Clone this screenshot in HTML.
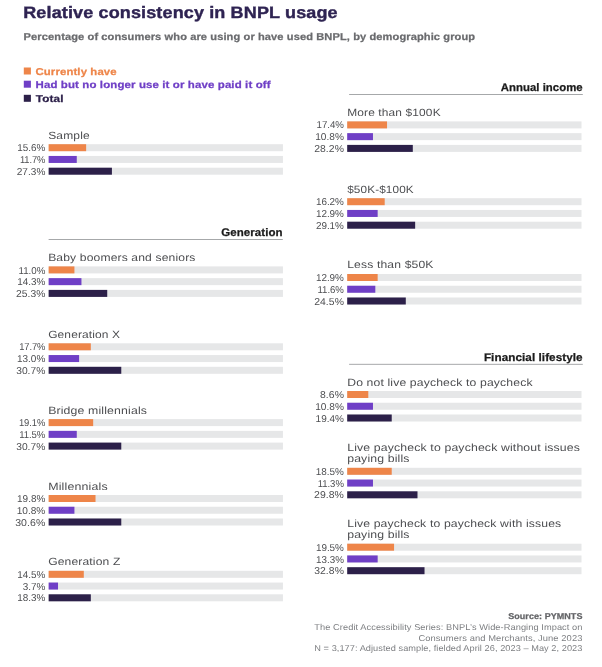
<!DOCTYPE html>
<html lang="en">
<head>
<meta charset="utf-8">
<title>Relative consistency in BNPL usage</title>
<style>
html,body{margin:0;padding:0;background:#fff;}
#c{position:relative;width:602px;height:667px;overflow:hidden;font-family:"Liberation Sans", Arial, Helvetica, sans-serif;will-change:transform;filter:blur(0.35px);}
.t{position:absolute;white-space:nowrap;line-height:1;margin:0;padding:0;text-rendering:geometricPrecision;left:0;transform-origin:0 0;}
.b{position:absolute;}
</style>
</head>
<body>
<div id="c">
<svg class="b" style="left:0;top:0" width="602" height="667" viewBox="0 0 602 667">
<rect x="48.65" y="144.20" width="234.30" height="7.00" fill="#e6e7e8"/>
<rect x="48.65" y="144.20" width="37.49" height="7.00" fill="#ee8549"/>
<rect x="48.65" y="155.95" width="234.30" height="7.00" fill="#e6e7e8"/>
<rect x="48.65" y="155.95" width="28.12" height="7.00" fill="#6f3fc6"/>
<rect x="48.65" y="167.70" width="234.30" height="7.00" fill="#e6e7e8"/>
<rect x="48.65" y="167.70" width="63.26" height="7.00" fill="#2c2049"/>
<rect x="48.65" y="266.40" width="234.30" height="7.00" fill="#e6e7e8"/>
<rect x="48.65" y="266.40" width="25.77" height="7.00" fill="#ee8549"/>
<rect x="48.65" y="278.15" width="234.30" height="7.00" fill="#e6e7e8"/>
<rect x="48.65" y="278.15" width="32.80" height="7.00" fill="#6f3fc6"/>
<rect x="48.65" y="289.90" width="234.30" height="7.00" fill="#e6e7e8"/>
<rect x="48.65" y="289.90" width="58.58" height="7.00" fill="#2c2049"/>
<rect x="48.65" y="343.30" width="234.30" height="7.00" fill="#e6e7e8"/>
<rect x="48.65" y="343.30" width="42.17" height="7.00" fill="#ee8549"/>
<rect x="48.65" y="355.05" width="234.30" height="7.00" fill="#e6e7e8"/>
<rect x="48.65" y="355.05" width="30.46" height="7.00" fill="#6f3fc6"/>
<rect x="48.65" y="366.80" width="234.30" height="7.00" fill="#e6e7e8"/>
<rect x="48.65" y="366.80" width="72.63" height="7.00" fill="#2c2049"/>
<rect x="48.65" y="419.10" width="234.30" height="7.00" fill="#e6e7e8"/>
<rect x="48.65" y="419.10" width="44.52" height="7.00" fill="#ee8549"/>
<rect x="48.65" y="430.85" width="234.30" height="7.00" fill="#e6e7e8"/>
<rect x="48.65" y="430.85" width="28.12" height="7.00" fill="#6f3fc6"/>
<rect x="48.65" y="442.60" width="234.30" height="7.00" fill="#e6e7e8"/>
<rect x="48.65" y="442.60" width="72.63" height="7.00" fill="#2c2049"/>
<rect x="48.65" y="495.00" width="234.30" height="7.00" fill="#e6e7e8"/>
<rect x="48.65" y="495.00" width="46.86" height="7.00" fill="#ee8549"/>
<rect x="48.65" y="506.75" width="234.30" height="7.00" fill="#e6e7e8"/>
<rect x="48.65" y="506.75" width="25.77" height="7.00" fill="#6f3fc6"/>
<rect x="48.65" y="518.50" width="234.30" height="7.00" fill="#e6e7e8"/>
<rect x="48.65" y="518.50" width="72.63" height="7.00" fill="#2c2049"/>
<rect x="48.65" y="570.80" width="234.30" height="7.00" fill="#e6e7e8"/>
<rect x="48.65" y="570.80" width="35.15" height="7.00" fill="#ee8549"/>
<rect x="48.65" y="582.55" width="234.30" height="7.00" fill="#e6e7e8"/>
<rect x="48.65" y="582.55" width="9.37" height="7.00" fill="#6f3fc6"/>
<rect x="48.65" y="594.30" width="234.30" height="7.00" fill="#e6e7e8"/>
<rect x="48.65" y="594.30" width="42.17" height="7.00" fill="#2c2049"/>
<rect x="347.20" y="121.40" width="234.30" height="7.00" fill="#e6e7e8"/>
<rect x="347.20" y="121.40" width="39.83" height="7.00" fill="#ee8549"/>
<rect x="347.20" y="133.15" width="234.30" height="7.00" fill="#e6e7e8"/>
<rect x="347.20" y="133.15" width="25.77" height="7.00" fill="#6f3fc6"/>
<rect x="347.20" y="144.90" width="234.30" height="7.00" fill="#e6e7e8"/>
<rect x="347.20" y="144.90" width="65.60" height="7.00" fill="#2c2049"/>
<rect x="347.20" y="198.20" width="234.30" height="7.00" fill="#e6e7e8"/>
<rect x="347.20" y="198.20" width="37.49" height="7.00" fill="#ee8549"/>
<rect x="347.20" y="209.95" width="234.30" height="7.00" fill="#e6e7e8"/>
<rect x="347.20" y="209.95" width="30.46" height="7.00" fill="#6f3fc6"/>
<rect x="347.20" y="221.70" width="234.30" height="7.00" fill="#e6e7e8"/>
<rect x="347.20" y="221.70" width="67.95" height="7.00" fill="#2c2049"/>
<rect x="347.20" y="274.00" width="234.30" height="7.00" fill="#e6e7e8"/>
<rect x="347.20" y="274.00" width="30.46" height="7.00" fill="#ee8549"/>
<rect x="347.20" y="285.75" width="234.30" height="7.00" fill="#e6e7e8"/>
<rect x="347.20" y="285.75" width="28.12" height="7.00" fill="#6f3fc6"/>
<rect x="347.20" y="297.50" width="234.30" height="7.00" fill="#e6e7e8"/>
<rect x="347.20" y="297.50" width="58.58" height="7.00" fill="#2c2049"/>
<rect x="347.20" y="391.00" width="234.30" height="7.00" fill="#e6e7e8"/>
<rect x="347.20" y="391.00" width="21.09" height="7.00" fill="#ee8549"/>
<rect x="347.20" y="402.75" width="234.30" height="7.00" fill="#e6e7e8"/>
<rect x="347.20" y="402.75" width="25.77" height="7.00" fill="#6f3fc6"/>
<rect x="347.20" y="414.50" width="234.30" height="7.00" fill="#e6e7e8"/>
<rect x="347.20" y="414.50" width="44.52" height="7.00" fill="#2c2049"/>
<rect x="347.20" y="467.80" width="234.30" height="7.00" fill="#e6e7e8"/>
<rect x="347.20" y="467.80" width="44.52" height="7.00" fill="#ee8549"/>
<rect x="347.20" y="479.55" width="234.30" height="7.00" fill="#e6e7e8"/>
<rect x="347.20" y="479.55" width="25.77" height="7.00" fill="#6f3fc6"/>
<rect x="347.20" y="491.30" width="234.30" height="7.00" fill="#e6e7e8"/>
<rect x="347.20" y="491.30" width="70.29" height="7.00" fill="#2c2049"/>
<rect x="347.20" y="543.70" width="234.30" height="7.00" fill="#e6e7e8"/>
<rect x="347.20" y="543.70" width="46.86" height="7.00" fill="#ee8549"/>
<rect x="347.20" y="555.45" width="234.30" height="7.00" fill="#e6e7e8"/>
<rect x="347.20" y="555.45" width="30.46" height="7.00" fill="#6f3fc6"/>
<rect x="347.20" y="567.20" width="234.30" height="7.00" fill="#e6e7e8"/>
<rect x="347.20" y="567.20" width="77.32" height="7.00" fill="#2c2049"/>
<rect x="23.80" y="67.50" width="7.10" height="7.00" fill="#ee8549"/>
<rect x="23.80" y="80.70" width="7.10" height="7.00" fill="#6f3fc6"/>
<rect x="23.80" y="94.80" width="7.10" height="7.00" fill="#2c2049"/>
<rect x="48.60" y="239.15" width="234.20" height="0.85" fill="#97999c"/>
<rect x="349.10" y="94.15" width="233.70" height="0.85" fill="#97999c"/>
<rect x="349.10" y="363.85" width="233.70" height="0.85" fill="#97999c"/>
</svg>
<div class="t" style="top:5px;font-size:16.5px;color:#2e2352;font-weight:700;-webkit-text-stroke:0.4px;letter-spacing:0.127px;transform:translateX(23.20px) scaleX(1.091);">Relative consistency in BNPL usage</div>
<div class="t" style="top:33px;font-size:10.0px;color:#6a6b6e;font-weight:700;-webkit-text-stroke:0.25px;letter-spacing:0.090px;transform:translateX(23.60px) scaleX(1.108);">Percentage of consumers who are using or have used BNPL, by demographic group</div>
<div class="t" style="top:68px;font-size:10.0px;color:#ee8549;font-weight:700;-webkit-text-stroke:0.25px;letter-spacing:0.114px;transform:translateX(35.50px) scaleX(1.134);">Currently have</div>
<div class="t" style="top:81px;font-size:10.0px;color:#6f3fc6;font-weight:700;-webkit-text-stroke:0.25px;letter-spacing:0.105px;transform:translateX(35.50px) scaleX(1.146);">Had but no longer use it or have paid it off</div>
<div class="t" style="top:95px;font-size:10.0px;color:#2c2049;font-weight:700;-webkit-text-stroke:0.25px;letter-spacing:0.151px;transform:translateX(35.70px) scaleX(1.17);">Total</div>
<div class="t" style="top:228px;font-size:11.0px;color:#1a1a1a;font-weight:700;-webkit-text-stroke:0.25px;letter-spacing:0.052px;transform:translateX(221.30px) scaleX(1.047);">Generation</div>
<div class="t" style="top:83px;font-size:11.0px;color:#1a1a1a;font-weight:700;-webkit-text-stroke:0.25px;letter-spacing:0.037px;transform:translateX(500.70px) scaleX(1.033);">Annual income</div>
<div class="t" style="top:353px;font-size:11.0px;color:#1a1a1a;font-weight:700;-webkit-text-stroke:0.25px;letter-spacing:0.054px;transform:translateX(483.90px) scaleX(1.065);">Financial lifestyle</div>
<div class="t" style="top:131px;font-size:10.5px;color:#4d4e51;letter-spacing:0.152px;transform:translateX(48.15px) scaleX(1.141);">Sample</div>
<div class="t" style="top:144px;font-size:10.0px;color:#4d4e51;letter-spacing:-0.012px;transform:translateX(17.35px) scaleX(0.989);">15.6%</div>
<div class="t" style="top:156px;font-size:10.0px;color:#4d4e51;letter-spacing:-0.093px;transform:translateX(19.95px) scaleX(0.932);">11.7%</div>
<div class="t" style="top:168px;font-size:10.0px;color:#4d4e51;letter-spacing:0.010px;transform:translateX(16.75px) scaleX(1.007);">27.3%</div>
<div class="t" style="top:253px;font-size:10.5px;color:#4d4e51;letter-spacing:0.125px;transform:translateX(48.15px) scaleX(1.152);">Baby boomers and seniors</div>
<div class="t" style="top:267px;font-size:10.0px;color:#4d4e51;letter-spacing:-0.034px;transform:translateX(18.55px) scaleX(0.975);">11.0%</div>
<div class="t" style="top:278px;font-size:10.0px;color:#4d4e51;letter-spacing:-0.008px;transform:translateX(17.25px) scaleX(0.992);">14.3%</div>
<div class="t" style="top:290px;font-size:10.0px;color:#4d4e51;letter-spacing:0.039px;transform:translateX(15.95px) scaleX(1.031);">25.3%</div>
<div class="t" style="top:330px;font-size:10.5px;color:#4d4e51;letter-spacing:0.119px;transform:translateX(48.15px) scaleX(1.138);">Generation X</div>
<div class="t" style="top:343px;font-size:10.0px;color:#4d4e51;letter-spacing:-0.084px;transform:translateX(19.15px) scaleX(0.935);">17.7%</div>
<div class="t" style="top:355px;font-size:10.0px;color:#4d4e51;transform:translateX(16.95px) scaleX(1.001);">13.0%</div>
<div class="t" style="top:367px;font-size:10.0px;color:#4d4e51;letter-spacing:0.032px;transform:translateX(16.15px) scaleX(1.025);">30.7%</div>
<div class="t" style="top:406px;font-size:10.5px;color:#4d4e51;letter-spacing:0.126px;transform:translateX(48.15px) scaleX(1.17);">Bridge millennials</div>
<div class="t" style="top:419px;font-size:10.0px;color:#4d4e51;letter-spacing:-0.076px;transform:translateX(18.95px) scaleX(0.941);">19.1%</div>
<div class="t" style="top:431px;font-size:10.0px;color:#4d4e51;letter-spacing:-0.055px;transform:translateX(19.15px) scaleX(0.956);">11.5%</div>
<div class="t" style="top:443px;font-size:10.0px;color:#4d4e51;letter-spacing:0.032px;transform:translateX(16.15px) scaleX(1.025);">30.7%</div>
<div class="t" style="top:482px;font-size:10.5px;color:#4d4e51;letter-spacing:0.135px;transform:translateX(48.15px) scaleX(1.181);">Millennials</div>
<div class="t" style="top:495px;font-size:10.0px;color:#4d4e51;transform:translateX(17.05px) scaleX(0.998);">19.8%</div>
<div class="t" style="top:507px;font-size:10.0px;color:#4d4e51;letter-spacing:0.014px;transform:translateX(16.65px) scaleX(1.01);">10.8%</div>
<div class="t" style="top:519px;font-size:10.0px;color:#4d4e51;letter-spacing:0.067px;transform:translateX(15.15px) scaleX(1.055);">30.6%</div>
<div class="t" style="top:557px;font-size:10.5px;color:#4d4e51;letter-spacing:0.130px;transform:translateX(48.15px) scaleX(1.151);">Generation Z</div>
<div class="t" style="top:571px;font-size:10.0px;color:#4d4e51;letter-spacing:-0.008px;transform:translateX(17.25px) scaleX(0.992);">14.5%</div>
<div class="t" style="top:583px;font-size:10.0px;color:#4d4e51;letter-spacing:-0.013px;transform:translateX(22.75px) scaleX(0.993);">3.7%</div>
<div class="t" style="top:594px;font-size:10.0px;color:#4d4e51;letter-spacing:-0.008px;transform:translateX(17.25px) scaleX(0.992);">18.3%</div>
<div class="t" style="top:108px;font-size:10.5px;color:#4d4e51;letter-spacing:0.123px;transform:translateX(347.20px) scaleX(1.135);">More than $100K</div>
<div class="t" style="top:121px;font-size:10.0px;color:#4d4e51;letter-spacing:-0.039px;transform:translateX(316.60px) scaleX(0.968);">17.4%</div>
<div class="t" style="top:133px;font-size:10.0px;color:#4d4e51;letter-spacing:0.014px;transform:translateX(315.20px) scaleX(1.01);">10.8%</div>
<div class="t" style="top:145px;font-size:10.0px;color:#4d4e51;letter-spacing:0.050px;transform:translateX(314.20px) scaleX(1.04);">28.2%</div>
<div class="t" style="top:185px;font-size:10.5px;color:#4d4e51;letter-spacing:0.121px;transform:translateX(347.20px) scaleX(1.118);">$50K-$100K</div>
<div class="t" style="top:198px;font-size:10.0px;color:#4d4e51;letter-spacing:-0.012px;transform:translateX(315.90px) scaleX(0.989);">16.2%</div>
<div class="t" style="top:210px;font-size:10.0px;color:#4d4e51;letter-spacing:-0.012px;transform:translateX(315.90px) scaleX(0.989);">12.9%</div>
<div class="t" style="top:222px;font-size:10.0px;color:#4d4e51;letter-spacing:-0.012px;transform:translateX(315.90px) scaleX(0.989);">29.1%</div>
<div class="t" style="top:260px;font-size:10.5px;color:#4d4e51;letter-spacing:0.132px;transform:translateX(347.20px) scaleX(1.154);">Less than $50K</div>
<div class="t" style="top:274px;font-size:10.0px;color:#4d4e51;letter-spacing:-0.012px;transform:translateX(315.90px) scaleX(0.989);">12.9%</div>
<div class="t" style="top:286px;font-size:10.0px;color:#4d4e51;letter-spacing:-0.046px;transform:translateX(317.50px) scaleX(0.962);">11.6%</div>
<div class="t" style="top:298px;font-size:10.0px;color:#4d4e51;letter-spacing:0.050px;transform:translateX(314.20px) scaleX(1.04);">24.5%</div>
<div class="t" style="top:378px;font-size:10.5px;color:#4d4e51;letter-spacing:0.121px;transform:translateX(347.20px) scaleX(1.161);">Do not live paycheck to paycheck</div>
<div class="t" style="top:391px;font-size:10.0px;color:#4d4e51;letter-spacing:0.054px;transform:translateX(320.00px) scaleX(1.041);">8.6%</div>
<div class="t" style="top:403px;font-size:10.0px;color:#4d4e51;letter-spacing:0.014px;transform:translateX(315.20px) scaleX(1.01);">10.8%</div>
<div class="t" style="top:415px;font-size:10.0px;color:#4d4e51;transform:translateX(315.60px) scaleX(0.998);">19.4%</div>
<div class="t" style="top:443px;font-size:10.5px;color:#4d4e51;letter-spacing:0.125px;transform:translateX(347.20px) scaleX(1.168);">Live paycheck to paycheck without issues</div>
<div class="t" style="top:454px;font-size:10.5px;color:#4d4e51;letter-spacing:0.118px;transform:translateX(347.20px) scaleX(1.168);">paying bills</div>
<div class="t" style="top:468px;font-size:10.0px;color:#4d4e51;letter-spacing:-0.008px;transform:translateX(315.80px) scaleX(0.992);">18.5%</div>
<div class="t" style="top:480px;font-size:10.0px;color:#4d4e51;letter-spacing:-0.055px;transform:translateX(317.70px) scaleX(0.956);">11.3%</div>
<div class="t" style="top:491px;font-size:10.0px;color:#4d4e51;letter-spacing:0.056px;transform:translateX(314.00px) scaleX(1.046);">29.8%</div>
<div class="t" style="top:519px;font-size:10.5px;color:#4d4e51;letter-spacing:0.122px;transform:translateX(347.20px) scaleX(1.162);">Live paycheck to paycheck with issues</div>
<div class="t" style="top:530px;font-size:10.5px;color:#4d4e51;letter-spacing:0.118px;transform:translateX(347.20px) scaleX(1.168);">paying bills</div>
<div class="t" style="top:544px;font-size:10.0px;color:#4d4e51;letter-spacing:-0.012px;transform:translateX(315.90px) scaleX(0.989);">19.5%</div>
<div class="t" style="top:556px;font-size:10.0px;color:#4d4e51;letter-spacing:-0.020px;transform:translateX(316.10px) scaleX(0.983);">13.3%</div>
<div class="t" style="top:567px;font-size:10.0px;color:#4d4e51;letter-spacing:0.050px;transform:translateX(314.20px) scaleX(1.04);">32.8%</div>
<div class="t" style="top:612px;font-size:8.5px;color:#636467;font-weight:700;-webkit-text-stroke:0.25px;letter-spacing:0.053px;transform:translateX(508.20px) scaleX(1.058);">Source: PYMNTS</div>
<div class="t" style="top:623px;font-size:8.5px;color:#7c7e81;letter-spacing:0.058px;transform:translateX(314.30px) scaleX(1.089);">The Credit Accessibility Series: BNPL’s Wide-Ranging Impact on</div>
<div class="t" style="top:634px;font-size:8.5px;color:#7c7e81;letter-spacing:0.071px;transform:translateX(418.40px) scaleX(1.102);">Consumers and Merchants, June 2023</div>
<div class="t" style="top:644px;font-size:8.5px;color:#7c7e81;letter-spacing:0.051px;transform:translateX(314.30px) scaleX(1.082);">N = 3,177: Adjusted sample, fielded April 26, 2023 – May 2, 2023</div>
</div>
</body>
</html>
